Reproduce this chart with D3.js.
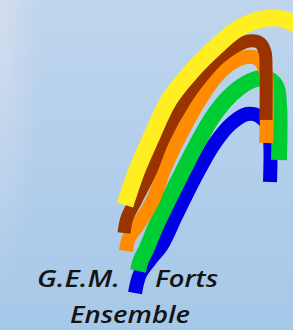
<!DOCTYPE html>
<html>
<head>
<meta charset="utf-8">
<script src="https://cdn.jsdelivr.net/npm/d3@7"></script>
<style>
  html, body { margin: 0; padding: 0; overflow: hidden; }
</style>
</head>
<body>
<div id="chart"></div>
<script>
// band centre lines, in logo units (0..293 x 0..330)
const bandNames = ['blue', 'green', 'orange', 'brown', 'yellow'];
const bandColors = ['#0000e6', '#00cc33', '#ff8c00', '#993300', '#ffee22'];
const bandWidths = [14, 16, 14, 13, 17];

const blue = [[135,293],[140,274],[150,260],[162,245],[176,216],[196,176],[215,143],[232,123],[247,114],[259,116],[267,125],[270,140],[270,182]];
const green = [[138,271],[141,260],[146,250],[156,226],[168,201],[183,171],[198,142],[212,118],[225,101],[239,88],[253,80],[266,78],[276,86],[279,105],[279,160]];
const orange = [[126,251],[129,238],[138,225],[153,200],[164,170],[178,140],[200,100],[217,76],[232,63],[247,57],[258,59],[265,70],[266,143]];
const brown = [[124,233],[127,218],[136,200],[151,170],[163,140],[185,100],[201,78],[217,60],[233,48],[249,41],[260,43],[265,52],[266,70],[266,120]];
const yellow = [[125,205],[137,170],[150,140],[169,100],[191,72],[217,46],[236,30],[258,20],[278,18],[295,24],[305,32]];

const titleLines = ['G.E.M.', 'Forts', 'Ensemble'];

const width = 293;
const height = 330;

const x = d3.scaleLinear().domain([0, 293]).range([0, width]);
const y = d3.scaleLinear().domain([0, 330]).range([0, height]);

const svg = d3.select('#chart')
    .append('svg')
    .attr('width', width)
    .attr('height', height);

const defs = svg.append('defs');
const bg = defs.append('linearGradient')
    .attr('id', 'bg')
    .attr('x1', 0).attr('y1', 0).attr('x2', 0).attr('y2', 1);
bg.append('stop').attr('offset', '0%').attr('stop-color', '#bfd5ed');
bg.append('stop').attr('offset', '100%').attr('stop-color', '#a6c8e8');

// soft light along the left edge, strongest at the top
const glow = defs.append('radialGradient')
    .attr('id', 'glow')
    .attr('cx', 0).attr('cy', 0).attr('r', 1)
    .attr('gradientUnits', 'objectBoundingBox');
glow.append('stop').attr('offset', '0%').attr('stop-color', '#e4e4f0').attr('stop-opacity', 0.6);
glow.append('stop').attr('offset', '50%').attr('stop-color', '#e4e4f0').attr('stop-opacity', 0.25);
glow.append('stop').attr('offset', '100%').attr('stop-color', '#e4e4f0').attr('stop-opacity', 0);

svg.append('rect').attr('width', width).attr('height', height).attr('fill', 'url(#bg)');
svg.append('rect').attr('width', 40).attr('height', 300).attr('fill', 'url(#glow)');

const line = d3.line()
    .x(d => x(d[0]))
    .y(d => y(d[1]))
    .curve(d3.curveCatmullRom.alpha(0.5));

const bands = [blue, green, orange, brown, yellow];

svg.selectAll('path.band')
    .data(bands)
    .enter()
    .append('path')
    .attr('class', (d, i) => 'band ' + bandNames[i])
    .attr('d', line)
    .attr('fill', 'none')
    .attr('stroke', (d, i) => bandColors[i])
    .attr('stroke-width', (d, i) => bandWidths[i])
    .attr('stroke-linecap', 'butt')
    .attr('stroke-linejoin', 'round');

const textPos = [[37, 287, 83], [155, 287, 63], [70, 323, 120]];

svg.selectAll('text.title')
    .data(titleLines)
    .enter()
    .append('text')
    .attr('class', 'title')
    .attr('x', (d, i) => x(textPos[i][0]))
    .attr('y', (d, i) => y(textPos[i][1]))
    .attr('textLength', (d, i) => textPos[i][2])
    .attr('lengthAdjust', 'spacingAndGlyphs')
    .attr('font-family', '"Open Sans", Lato, sans-serif')
    .attr('font-weight', 600)
    .attr('font-style', 'italic')
    .attr('font-size', 24)
    .attr('fill', '#141414')
    .text(d => d);
</script>
</body>
</html>
